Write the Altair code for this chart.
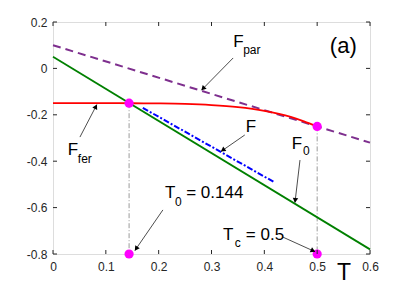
import math
import altair as alt
import pandas as pd

FONT = "Liberation Sans"
W, H = 317, 232
XMIN, XMAX, YMIN, YMAX = 0.0, 0.6, -0.8, 0.2

# ---- data ----
par_T = [0.0, 0.6]
par_V = [0.10, -0.32]

f0_T = [0.0, 0.6]
f0_V = [0.05, -0.78]

fer_T = [0.0, 0.05, 0.10, 0.15, 0.20, 0.25, 0.30, 0.35, 0.40, 0.45, 0.475, 0.50]
fer_V = [-0.150, -0.150, -0.150, -0.1503, -0.151, -0.153, -0.158, -0.167, -0.183, -0.209, -0.228, -0.250]

f_T = [0.17, 0.42]
f_V = [-0.170, -0.492]

dot_T = [0.144, 0.5, 0.144, 0.5]
dot_V = [-0.15, -0.25, -0.8, -0.8]

vl_T = [0.144, 0.5]
vl_V1 = [-0.15, -0.25]
vl_V2 = [-0.8, -0.8]

xticks = [0, 0.1, 0.2, 0.3, 0.4, 0.5, 0.6]
yticks = [0.2, 0, -0.2, -0.4, -0.6, -0.8]

# annotation texts
big_texts = ["F", "F", "F", "F", "T", "= 0.144", "T", "= 0.5"]
big_T = [0.341, 0.028, 0.365, 0.452, 0.212, 0.252, 0.322, 0.365]
big_V = [0.092, -0.373, -0.274, -0.347, -0.559, -0.559, -0.740, -0.740]
sub_texts = ["par", "fer", "0", "0", "c"]
sub_T = [0.360, 0.047, 0.473, 0.231, 0.344]
sub_V = [0.064, -0.408, -0.373, -0.593, -0.770]

arrow_T1 = [0.341, 0.051, 0.363, 0.4675, 0.208, 0.435]
arrow_V1 = [0.045, -0.296, -0.287, -0.395, -0.610, -0.727]
arrow_T2 = [0.281, 0.083, 0.318, 0.458, 0.155, 0.496]
arrow_V2 = [-0.094, -0.156, -0.358, -0.578, -0.785, -0.790]

# ---- scales ----
xs = alt.Scale(domain=[XMIN, XMAX], nice=False, zero=False)
ys = alt.Scale(domain=[YMIN, YMAX], nice=False, zero=False)

lab_expr = ("datum.value == 0 ? '0' : (datum.value < 0 ? '-' + format(-datum.value, '.1f') "
            ": format(datum.value, '.1f'))")

X = lambda f="T": alt.X(f, type="quantitative", scale=xs,
                        axis=alt.Axis(values=xticks, title=None, ticks=False, domain=False,
                                      grid=False, labelExpr=lab_expr, labelFont=FONT,
                                      labelFontSize=12, labelColor="#262626",
                                      labelPadding=7, labelFlush=False))
Y = lambda f="V": alt.Y(f, type="quantitative", scale=ys,
                        axis=alt.Axis(values=yticks, title=None, ticks=False, domain=False,
                                      grid=False, labelExpr=lab_expr, labelFont=FONT,
                                      labelFontSize=12, labelColor="#262626",
                                      labelPadding=6, labelFlush=False))

def line(T, V, **kw):
    return alt.Chart(pd.DataFrame({"T": T, "V": V})).mark_line(**kw).encode(x=X(), y=Y())

par = line(par_T, par_V, color="#7E2F8E", strokeWidth=2, strokeDash=[8, 5])
f0 = line(f0_T, f0_V, color="#008000", strokeWidth=1.8)
fer = line(fer_T, fer_V, color="#FF0000", strokeWidth=1.8, interpolate="monotone")
fb = line(f_T, f_V, color="#0000FF", strokeWidth=2, strokeDash=[6, 2, 2, 2])

vl = alt.Chart(pd.DataFrame({"T": vl_T, "V": vl_V1, "V2": vl_V2})).mark_rule(
    color="#808080", strokeWidth=0.8, strokeDash=[5, 2, 1, 2]
).encode(x=X(), y=Y(), y2="V2")

dots = alt.Chart(pd.DataFrame({"T": dot_T, "V": dot_V})).mark_circle(
    color="#FF00FF", opacity=1, size=85
).encode(x=X(), y=Y())

# inward ticks
xt = pd.DataFrame({"T": xticks})
yt = pd.DataFrame({"V": yticks})
tk = dict(color="#262626", strokeWidth=1)
ticks = [
    alt.Chart(xt).mark_rule(**tk).encode(x=X(), y=alt.value(H), y2=alt.value(H - 4)),
    alt.Chart(xt).mark_rule(**tk).encode(x=X(), y=alt.value(0), y2=alt.value(4)),
    alt.Chart(yt).mark_rule(**tk).encode(y=Y(), x=alt.value(0), x2=alt.value(4)),
    alt.Chart(yt).mark_rule(**tk).encode(y=Y(), x=alt.value(W), x2=alt.value(W - 4)),
]

# annotations
big = alt.Chart(pd.DataFrame({"t": big_texts, "T": big_T, "V": big_V})).mark_text(
    font=FONT, fontSize=17, align="left", baseline="alphabetic", color="black"
).encode(x=X(), y=Y(), text="t")
sub = alt.Chart(pd.DataFrame({"t": sub_texts, "T": sub_T, "V": sub_V})).mark_text(
    font=FONT, fontSize=12, align="left", baseline="alphabetic", color="black"
).encode(x=X(), y=Y(), text="t")
panel = alt.Chart(pd.DataFrame({"t": ["(a)"], "T": [0.524], "V": [0.066]})).mark_text(
    font=FONT, fontSize=22, align="left", baseline="alphabetic", color="black"
).encode(x=X(), y=Y(), text="t")
tlab = alt.Chart(pd.DataFrame({"t": ["T"], "T": [0.5375], "V": [-0.912]})).mark_text(
    font=FONT, fontSize=23, align="left", baseline="alphabetic", color="black"
).encode(x=X(), y=Y(), text="t")

arr = pd.DataFrame({"T": arrow_T1, "V": arrow_V1, "T2": arrow_T2, "V2": arrow_V2})
arrows = alt.Chart(arr).mark_rule(color="black", strokeWidth=0.7).encode(
    x=X(), y=Y(), x2="T2", y2="V2")

# arrowhead orientation derived from the arrow data
hT, hV, hA = [], [], []
for t1, v1, t2, v2 in zip(arrow_T1, arrow_V1, arrow_T2, arrow_V2):
    dx = (t2 - t1) * W / (XMAX - XMIN)
    dy = -(v2 - v1) * H / (YMAX - YMIN)
    L = math.hypot(dx, dy)
    ux, uy = dx / L, dy / L
    ang = math.degrees(math.atan2(dx, -dy)) % 360
    back = 3.0
    hT.append(t2 - back * ux * (XMAX - XMIN) / W)
    hV.append(v2 + back * uy * (YMAX - YMIN) / H)
    hA.append(ang)
heads = alt.Chart(pd.DataFrame({"T": hT, "V": hV, "A": hA})).mark_point(
    shape="triangle", filled=True, color="black", size=30, opacity=1
).encode(x=X(), y=Y(), angle=alt.Angle("A", type="quantitative", scale=None))

chart = alt.layer(
    vl, par, f0, fer, fb, dots, arrows, heads, big, sub, panel, tlab, *ticks
).properties(
    width=W, height=H, autosize=alt.AutoSizeParams(type="none"),
    padding={"left": 45, "top": 14, "right": 30, "bottom": 32},
).configure_view(stroke="#262626", strokeWidth=1.2).configure(background="white")

chart.save("out.html", embed_options={"renderer": "svg", "actions": False})
